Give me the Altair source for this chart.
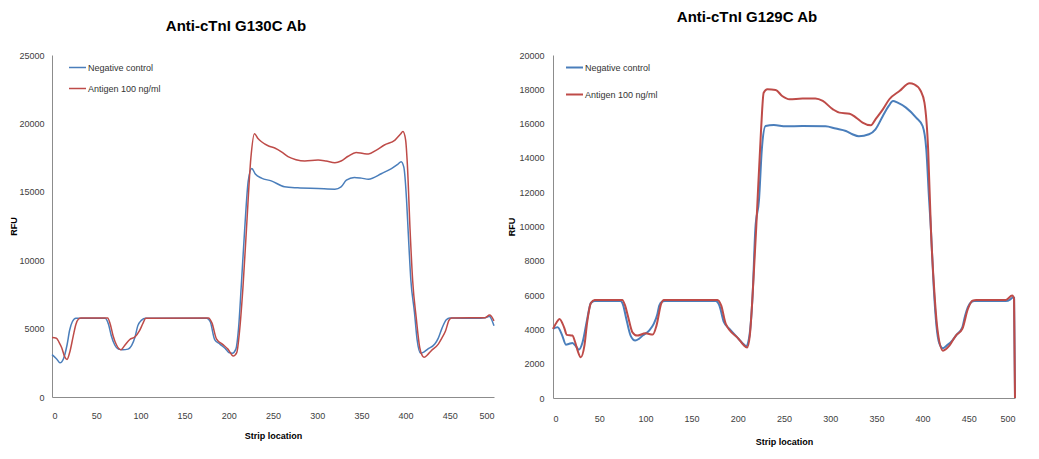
import altair as alt
import pandas as pd

SERIES = ["Negative control", "Antigen 100 ng/ml"]
COLORS = ["#4A7EBB", "#BE4B48"]
X_TICKS = [0, 50, 100, 150, 200, 250, 300, 350, 400, 450, 500]

TITLE_LEFT = "Anti-cTnI G130C Ab"
TITLE_RIGHT = "Anti-cTnI G129C Ab"

# ---- Left panel (G130C) ----
L_NEG_X = [0, 5, 9, 13, 17, 20, 23, 27, 60, 64, 67, 71, 75, 80, 86, 90, 94, 97, 101, 106,
           175, 179, 184, 190, 196, 200, 204, 208, 211, 214, 218, 222, 226, 230, 237, 248,
           263, 278, 301, 320, 327, 333, 342, 350, 358, 373, 384, 391, 395, 398, 401, 403,
           406, 410, 413, 417, 421, 425, 433, 437, 441, 446, 450, 480, 490, 495, 497, 500]
L_NEG_Y = [3100, 2800, 2500, 2800, 3800, 4900, 5500, 5750, 5750, 5300, 4500, 3800, 3500, 3450,
           3500, 3750, 4400, 5200, 5600, 5750, 5750, 5500, 4200, 3870, 3550, 3250, 3200, 3500,
           5000, 8000, 12300, 15800, 16700, 16300, 16000, 15800, 15370, 15290, 15240, 15190,
           15360, 15850, 16050, 16000, 15920, 16340, 16700, 17000, 17200, 16800, 14500, 12000,
           8500, 6200, 4200, 3200, 3300, 3500, 3870, 4300, 5000, 5650, 5780, 5750, 5800, 5900,
           5700, 5200]
L_AG_X = [0, 5, 8, 11, 14, 17, 20, 24, 27, 30, 33, 63, 66, 69, 73, 78, 82, 88, 94, 99, 103,
          106, 177, 181, 186, 193, 199, 205, 209, 212, 216, 220, 225, 229, 233, 237, 245, 252,
          260, 267, 276, 286, 301, 310, 320, 327, 335, 344, 352, 358, 367, 376, 388, 394, 397,
          400, 402, 405, 408, 412, 416, 419, 421, 425, 429, 437, 441, 445, 449, 452, 490, 495,
          497, 500]
L_AG_Y = [4350, 4300, 4000, 3600, 3000, 2750, 3250, 4450, 5300, 5700, 5780, 5780, 5300, 4500,
          3800, 3450, 3750, 4200, 4400, 4850, 5400, 5750, 5780, 5400, 4250, 3850, 3500, 3000,
          3250, 4700, 8000, 12300, 17500, 19250, 18900, 18660, 18350, 18200, 17900, 17570,
          17350, 17250, 17320, 17250, 17130, 17250, 17600, 17880, 17800, 17760, 18050, 18420,
          18780, 19200, 19400, 18800, 17000, 12300, 8500, 5800, 3600, 3000, 2900, 3100, 3380,
          3870, 4300, 4800, 5600, 5780, 5800, 5990, 5900, 5570]

# ---- Right panel (G129C) ----
R_NEG_X = [0, 5, 10, 14, 17, 21, 25, 28, 32, 37, 41, 45, 73, 76, 79, 84, 89, 93, 97, 104, 109,
           113, 115, 118, 121, 176, 180, 185, 191, 201, 206, 209, 212, 216, 219, 223, 226, 230,
           239, 252, 270, 295, 306, 317, 324, 331, 342, 349, 357, 363, 368, 373, 382, 393, 400,
           404, 407, 409, 412, 415, 418, 422, 427, 432, 437, 443, 446, 449, 453, 456, 490, 495,
           498, 499, 500]
R_NEG_Y = [4030, 4120, 3640, 3110, 3150, 3210, 3000, 2820, 3250, 4600, 5540, 5650, 5650, 5400,
           4700, 3640, 3350, 3450, 3640, 3930, 4320, 4900, 5390, 5620, 5650, 5650, 5400, 4420,
           4030, 3440, 3150, 3020, 3440, 5970, 9860, 11590, 14500, 15860, 15920, 15840, 15860,
           15840, 15710, 15570, 15380, 15260, 15380, 15670, 16450, 17000, 17320, 17220, 16930,
           16350, 15860, 14500, 11590, 9840, 6500, 4200, 3200, 2900, 3100, 3350, 3700, 4120,
           4800, 5300, 5600, 5650, 5650, 5750, 5880, 5850, 0]
R_AG_X = [0, 4, 7, 12, 15, 21, 24, 27, 30, 34, 37, 41, 45, 75, 78, 81, 86, 91, 100, 108, 112,
          117, 120, 178, 182, 187, 201, 206, 210, 213, 217, 220, 225, 228, 232, 241, 248, 256,
          270, 284, 292, 303, 310, 321, 328, 335, 344, 349, 357, 364, 375, 386, 391, 398, 402,
          406, 409, 413, 416, 422, 429, 436, 443, 449, 454, 458, 490, 497, 499, 500]
R_AG_Y = [4030, 4420, 4610, 4120, 3680, 3640, 3250, 2700, 2370, 3050, 4420, 5540, 5720, 5720,
          5400, 4800, 3830, 3640, 3770, 3700, 4220, 5490, 5720, 5720, 5400, 4320, 3440, 3100,
          2940, 3640, 6950, 10000, 15470, 17800, 18000, 17960, 17610, 17420, 17460, 17460,
          17320, 16830, 16640, 16580, 16350, 16060, 15900, 16250, 16830, 17420, 17900, 18350,
          18290, 17900, 17220, 14500, 9840, 5970, 4030, 2760, 3050, 3640, 4030, 5190, 5680,
          5720, 5720, 5970, 5780, 0]

FONT = "Liberation Sans"


def make_df(nx, ny, ax, ay):
    rows = [{"x": a, "v": b, "series": SERIES[0]} for a, b in zip(nx, ny)]
    rows += [{"x": a, "v": b, "series": SERIES[1]} for a, b in zip(ax, ay)]
    return pd.DataFrame(rows)


def panel(df, title, title_offset, ymax, ystep, w, h, sw, lx, ly, rowpad,
          ytitle_x, ylabel_pad, xlabel_pad, xtitle_y):
    return alt.Chart(df).mark_line(interpolate="monotone", strokeWidth=sw).encode(
        x=alt.X("x:Q",
                scale=alt.Scale(domain=[0, 500], nice=False),
                axis=alt.Axis(values=X_TICKS, title="Strip location", format="d",
                              labelPadding=xlabel_pad, labelBaseline="middle",
                              titleY=xtitle_y, titleBaseline="middle")),
        y=alt.Y("v:Q",
                scale=alt.Scale(domain=[0, ymax], nice=False),
                axis=alt.Axis(values=list(range(0, ymax + 1, ystep)), title="RFU", format="d",
                              labelPadding=ylabel_pad,
                              titleX=ytitle_x, titleY=h / 2, titleAlign="center",
                              titleBaseline="middle", titleAngle=270)),
        color=alt.Color("series:N",
                        scale=alt.Scale(domain=SERIES, range=COLORS),
                        legend=alt.Legend(title=None, orient="none", legendX=lx, legendY=ly,
                                          symbolType="stroke", symbolSize=289,
                                          symbolStrokeWidth=sw, labelOffset=1,
                                          rowPadding=rowpad, labelFont=FONT,
                                          labelFontSize=9, labelColor="#333333")),
    ).properties(
        width=w, height=h,
        title=alt.TitleParams(title, fontSize=15, font=FONT, fontWeight="bold",
                              anchor="middle", dx=-37, offset=title_offset,
                              baseline="middle", color="#000000"),
    )


left = panel(make_df(L_NEG_X, L_NEG_Y, L_AG_X, L_AG_Y), TITLE_LEFT, 10, 25000, 5000,
             442, 342, 1.5, 16, 3, 6, -39, 8, 18, 38)
right = panel(make_df(R_NEG_X, R_NEG_Y, R_AG_X, R_AG_Y), TITLE_RIGHT, 19, 20000, 2000,
              462, 343, 2, 12, 3, 12, -42, 9, 20, 43)

chart = alt.hconcat(left, right, spacing=10).resolve_scale(
    color="independent"
).resolve_legend(
    color="independent"
).properties(
    padding={"left": 9, "top": 10, "right": 5, "bottom": 5},
    background="white",
).configure_view(
    stroke=None
).configure_axis(
    grid=False, ticks=False, tickSize=0, domainColor="#8C8C8C", domainWidth=1,
    labelFont=FONT, labelFontSize=9, labelColor="#404040",
    titleFont=FONT, titleFontSize=9, titleFontWeight="bold", titleColor="#000000",
)

chart.save("out.html", embed_options={"renderer": "svg", "actions": False})
